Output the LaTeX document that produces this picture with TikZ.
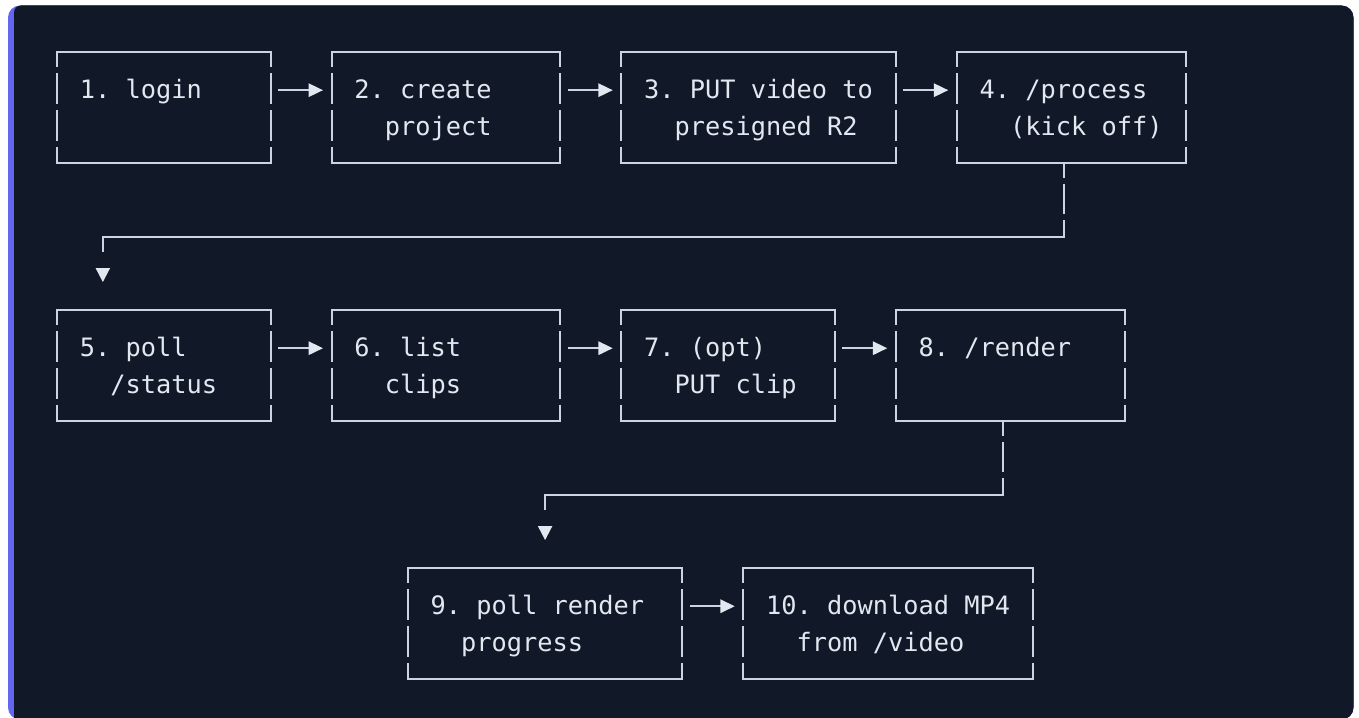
\documentclass[tikz,border=0pt]{standalone}
\usepackage{fontspec}
\newfontfamily\monofont{DejaVu Sans Mono}
\usetikzlibrary{arrows.meta,calc}
\definecolor{panel}{HTML}{111827}
\definecolor{accent}{HTML}{6366F1}
\definecolor{txt}{HTML}{E2E8F0}
\definecolor{ln}{HTML}{CBD5E1}
\newcommand\Strut{\rule[-8.93pt]{0pt}{36.86pt}}
\newcommand\ind{\phantom{xx}}
\newcommand\boxtext[3]{\vbox{\hbox to #1{\Strut #2\hss}\hbox to #1{\Strut #3\hss}}}
\begin{document}
\frenchspacing
\begin{tikzpicture}[x=1pt,y=-1pt,
  box/.style={anchor=north west, outer sep=0pt, inner xsep=22.875pt, inner ysep=0pt,
    minimum height=110.58pt, text=txt, font=\monofont\fontsize{25.33pt}{36.86pt}\selectfont\frenchspacing},
  side/.style={draw=ln, line width=1.8pt, dash pattern=on 30.86pt off 6pt, dash phase=16.16pt},
  edge/.style={draw=ln, line width=1.8pt, line cap=rect, line join=miter},
  arr/.style={draw=ln, line width=1.8pt, -{Triangle[length=14.5pt,width=13.5pt,color=txt]}},
  tip/.style={fill=txt}
]
\useasboundingbox (0,0) rectangle (1359,717);
\fill[white] (0,0) rectangle (1359,717);
\fill[accent, rounded corners=12pt] (8,5.5) rectangle (1353.5,719.5);
\begin{scope}
  \clip[rounded corners=12pt] (8,5.5) rectangle (1353.5,719.5);
  \fill[panel, rounded corners=7pt] (14,5.5) rectangle (1370,735);
\end{scope}

% row 1
\node[box] (b1) at (57.1,52.3)    {\boxtext{167.75pt}{1. login}{}};
\node[box] (b2) at (331.6,52.3)   {\boxtext{183pt}{2. create}{\ind project}};
\node[box] (b3) at (621.35,52.3)  {\boxtext{228.75pt}{3. PUT video to}{\ind presigned R2}};
\node[box] (b4) at (956.85,52.3)  {\boxtext{183pt}{4. /process}{\ind (kick off)}};
% row 2
\node[box] (b5) at (57.1,310.32)  {\boxtext{167.75pt}{5. poll}{\ind /status}};
\node[box] (b6) at (331.6,310.32) {\boxtext{183pt}{6. list}{\ind clips}};
\node[box] (b7) at (621.35,310.32){\boxtext{167.75pt}{7. (opt)}{\ind PUT clip}};
\node[box] (b8) at (895.85,310.32){\boxtext{183pt}{8. /render}{}};
% row 3
\node[box] (b9) at (407.85,568.34) {\boxtext{228.75pt}{9. poll render}{\ind progress}};
\node[box] (b10) at (743.35,568.34){\boxtext{244pt}{10. download MP4}{\ind from /video}};

\foreach \b in {b1,b2,b3,b4,b5,b6,b7,b8,b9,b10}{
  \draw[edge] (\b.north west) -- (\b.north east);
  \draw[edge] (\b.south west) -- (\b.south east);
  \draw[side] (\b.north west) -- (\b.south west);
  \draw[side] (\b.north east) -- (\b.south east);
}

\foreach \a/\b in {b1/b2,b2/b3,b3/b4,b5/b6,b6/b7,b7/b8,b9/b10}
  \draw[arr] ([shift={(7.6,-17.4)}]\a.east) -- ([shift={(-8.6,-17.4)}]\b.west);

% connector 4 -> 5
\coordinate (j1) at (1063.6,236.6);
\coordinate (j2) at (102.85,236.6);
\coordinate (e5) at (102.85,251.3);
\coordinate (t5) at (102.85,268);
\draw[side] (b4.south -| j1) -- (j1);
\draw[edge] (j1) -- (j2) -- (e5);
\fill[tip] (t5) ++(-7.3,0) -- ++(14.6,0) -- ++(-7.3,14) -- cycle;

% connector 8 -> 9
\coordinate (j3) at (1002.6,494.6);
\coordinate (j4) at (545.1,494.6);
\coordinate (e9) at (545.1,509.3);
\coordinate (t9) at (545.1,526);
\draw[side] (b8.south -| j3) -- (j3);
\draw[edge] (j3) -- (j4) -- (e9);
\fill[tip] (t9) ++(-7.3,0) -- ++(14.6,0) -- ++(-7.3,14) -- cycle;
\end{tikzpicture}
\end{document}
